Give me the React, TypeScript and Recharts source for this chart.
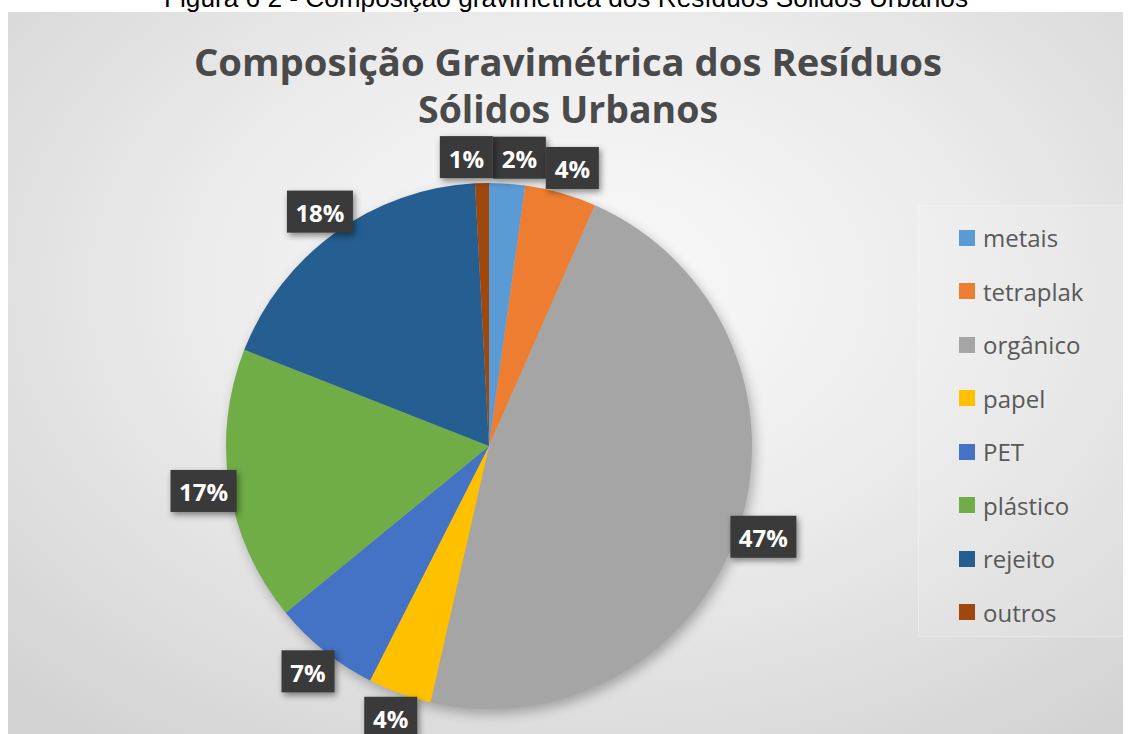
import React from "react";
import { PieChart, Pie, Cell, Legend } from "recharts";

// data (slice shares in %)
const categories = ["metais", "tetraplak", "orgânico", "papel", "PET", "plástico", "rejeito", "outros"];
const shares = [2.2, 4.4, 47.0, 3.9, 6.6, 16.9, 18.2, 0.85];
const sliceColors = ["#5B9BD5", "#ED7D31", "#A5A5A5", "#FFC000", "#4472C4", "#70AD47", "#255E91", "#9E480E"];

const caption = "Figura 6 2 - Composição gravimétrica dos Resíduos Sólidos Urbanos";
const titleLines = ["Composição Gravimétrica dos Resíduos", "Sólidos Urbanos"];

const W = 1115;
const H = 722;
const CX = 481;
const CY = 434;
const R = 263;

const data = categories.map((name, i) => ({ name, value: shares[i] }));
const total = shares.reduce((a, b) => a + b, 0);

// box offsets (relative to the pie centre), laid out along each slice's mid angle
// and then pushed apart sideways where they collide, roughly like Excel does
const labelBoxes = (() => {
  let acc = 0;
  const boxes = shares.map((v) => {
    const mid = ((acc + v / 2) / total) * 2 * Math.PI; // clockwise from 12 o'clock
    acc += v;
    const text = `${Math.round((v / total) * 100)}%`;
    const r = R + 26;
    return { dx: r * Math.sin(mid), dy: -r * Math.cos(mid), w: text.length * 13 + 27, h: 42, text };
  });
  for (let pass = 0; pass < 6; pass++) {
    for (let i = 0; i < boxes.length; i++) {
      for (let j = 0; j < boxes.length; j++) {
        if (i === j) continue;
        const a = boxes[i];
        const b = boxes[j];
        const ox = (a.w + b.w) / 2 - Math.abs(a.dx - b.dx);
        const oy = (a.h + b.h) / 2 - Math.abs(a.dy - b.dy);
        if (ox > 0 && oy > 0) {
          const s = a.dx < b.dx ? -1 : 1;
          a.dx += (s * ox) / 2;
          b.dx -= (s * ox) / 2;
        }
      }
    }
  }
  return boxes;
})();

const renderLabel = (props: any) => {
  const b = labelBoxes[props.index];
  const x = props.cx + b.dx;
  const y = props.cy + b.dy;
  return (
    <g>
      <rect
        x={x - b.w / 2}
        y={y - b.h / 2}
        width={b.w}
        height={b.h}
        fill="#3a3a3a"
        style={{ filter: "drop-shadow(2px 3px 3px rgba(0,0,0,0.45))" }}
      />
      <text
        x={x}
        y={y + 1}
        textAnchor="middle"
        dominantBaseline="central"
        fill="#ffffff"
        fontSize={24}
        fontWeight={700}
        fontFamily="'Open Sans', sans-serif"
      >
        {b.text}
      </text>
    </g>
  );
};

const renderLegend = () => (
  <div
    style={{
      width: 207,
      height: 432,
      boxSizing: "border-box",
      paddingTop: 5,
      background: "rgba(255,255,255,0.12)",
      border: "1px solid rgba(255,255,255,0.25)",
    }}
  >
    {categories.map((c, i) => (
      <div
        key={c}
        style={{
          height: 53.5,
          display: "flex",
          alignItems: "center",
          paddingLeft: 40,
          fontFamily: "'Open Sans', sans-serif",
          fontSize: 24,
          color: "#595959",
        }}
      >
        <span style={{ width: 16, height: 16, background: sliceColors[i], marginRight: 8, display: "inline-block" }} />
        {c}
      </div>
    ))}
  </div>
);

export default function App() {
  return (
    <div style={{ position: "absolute", left: 0, top: 0, width: 1131, height: 734, background: "#fff", overflow: "hidden" }}>
      <style>{`.recharts-pie { filter: drop-shadow(3px 5px 6px rgba(0,0,0,0.28)); }`}</style>
      <svg width={1131} height={14} style={{ position: "absolute", left: 0, top: 0 }}>
        <text
          x={566}
          y={7}
          textAnchor="middle"
          fontSize={26}
          fontFamily="'Liberation Sans', Arial, sans-serif"
          fill="#000"
          textLength={804}
          lengthAdjust="spacingAndGlyphs"
        >
          {caption}
        </text>
      </svg>
      <div
        style={{
          position: "absolute",
          left: 8,
          top: 12,
          width: W,
          height: H,
          background: "radial-gradient(ellipse 75% 80% at 52% 38%, #fafafa 0%, #ececec 45%, #d2d2d2 100%)",
        }}
      >
        <PieChart width={W} height={H} margin={{ top: 0, right: 0, bottom: 0, left: 0 }}>
          <Pie
            data={data}
            dataKey="value"
            nameKey="name"
            cx={CX}
            cy={CY}
            outerRadius={R}
            startAngle={90}
            endAngle={-270}
            stroke="none"
            label={renderLabel}
            labelLine={false}
            isAnimationActive={false}
          >
            {data.map((d, i) => (
              <Cell key={d.name} fill={sliceColors[i]} />
            ))}
          </Pie>
          <Legend
            content={renderLegend}
            wrapperStyle={{ position: "absolute", left: 910, top: 193, width: 207, height: 432 }}
          />
        </PieChart>
        <svg width={W} height={140} style={{ position: "absolute", left: 0, top: 0, pointerEvents: "none" }}>
          <text
            x={560}
            y={64}
            textAnchor="middle"
            fontSize={38}
            fontWeight={700}
            fontFamily="'Open Sans', sans-serif"
            fill="#4a4a4a"
            textLength={748}
            lengthAdjust="spacingAndGlyphs"
          >
            {titleLines[0]}
          </text>
          <text
            x={560}
            y={111}
            textAnchor="middle"
            fontSize={38}
            fontWeight={700}
            fontFamily="'Open Sans', sans-serif"
            fill="#4a4a4a"
            textLength={300}
            lengthAdjust="spacingAndGlyphs"
          >
            {titleLines[1]}
          </text>
        </svg>
      </div>
    </div>
  );
}
